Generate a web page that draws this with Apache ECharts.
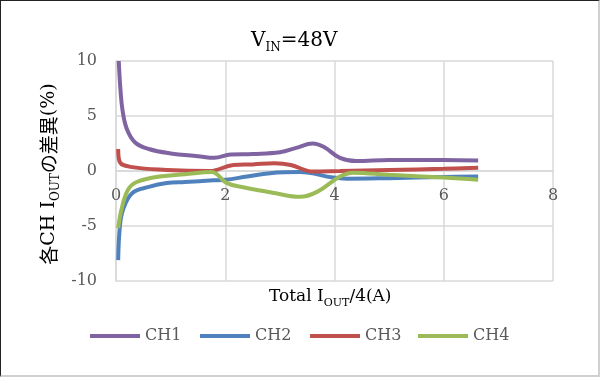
<!DOCTYPE html>
<html lang="ja">
<head>
    <meta charset="utf-8">
    <title>各CH IOUTの差異</title>
    <script src="https://cdn.jsdelivr.net/npm/echarts@6/dist/echarts.min.js"></script>
    <style>
        html, body { margin: 0; padding: 0; background: #fff; }
        #wrap { position: relative; width: 600px; height: 377px; }
        #chart { width: 600px; height: 377px; }
        #frame {
            position: absolute; left: 0; top: 0; width: 600px; height: 377px;
            box-sizing: border-box; pointer-events: none;
            border-top: 1px solid #222; border-left: 1px solid #222;
            border-right: 2px solid #d0d0d0; border-bottom: 2px solid #d0d0d0;
        }
    </style>
</head>
<body>
    <div id="wrap">
        <div id="chart"></div>
        <div id="frame"></div>
    </div>
    <script type="text/javascript">
        // 系列名
        var seriesNames = ["CH1", "CH2", "CH3", "CH4"];
        // 軸の目盛
        var xTicks = [0, 2, 4, 6, 8];
        var yTicks = [-10, -5, 0, 5, 10];
        // 各CHのデータ (Total IOUT/4, 差異%)
        var ch1X = [0.05, 0.08, 0.12, 0.2, 0.35, 0.6, 1.0, 1.5, 1.8, 2.1, 2.5, 3.0, 3.3, 3.6, 3.8, 4.1, 4.4, 5.0, 6.0, 6.63];
        var ch1Y = [10, 7.5, 5.5, 3.8, 2.6, 2.0, 1.6, 1.35, 1.2, 1.5, 1.55, 1.7, 2.1, 2.5, 2.2, 1.2, 0.9, 1.0, 1.0, 0.95];
        var ch2X = [0.04, 0.07, 0.13, 0.3, 0.6, 0.93, 1.26, 1.78, 2.0, 2.4, 2.82, 3.37, 3.97, 4.23, 5.0, 6.0, 6.63];
        var ch2Y = [-8.1, -5.1, -3.5, -2.0, -1.45, -1.1, -1.0, -0.85, -0.8, -0.5, -0.2, -0.1, -0.6, -0.7, -0.65, -0.55, -0.5];
        var ch3X = [0.04, 0.07, 0.3, 0.93, 1.72, 2.15, 2.5, 2.9, 3.2, 3.6, 4.1, 5.0, 6.0, 6.63];
        var ch3Y = [2.0, 0.8, 0.35, 0.1, 0.0, 0.55, 0.6, 0.7, 0.55, -0.05, 0.0, 0.1, 0.2, 0.3];
        var ch4X = [0.04, 0.1, 0.22, 0.38, 0.8, 1.26, 1.75, 2.03, 2.35, 2.9, 3.37, 3.68, 4.1, 4.34, 5.0, 6.0, 6.63];
        var ch4Y = [-5.2, -3.5, -1.7, -1.0, -0.5, -0.3, -0.1, -1.1, -1.5, -2.0, -2.35, -1.9, -0.5, -0.15, -0.35, -0.6, -0.8];

        var colors = ["#8064A2", "#4F81BD", "#C0504D", "#9BBB59"];
        var textColor = "#595959";
        var font = "'DejaVu Serif', serif";
        var legendLefts = [85, 195, 305, 413];

        function pairs(xs, ys) {
            return xs.map(function (x, i) { return [x, ys[i]]; });
        }
        var allData = [pairs(ch1X, ch1Y), pairs(ch2X, ch2Y), pairs(ch3X, ch3Y), pairs(ch4X, ch4Y)];

        // 下付き文字用
        function subRich(size, sub, lh, pad) {
            return {
                m: { fontFamily: font, fontSize: size, color: textColor, lineHeight: lh },
                s: { fontFamily: font, fontSize: sub, color: textColor, lineHeight: lh, verticalAlign: "bottom", padding: [pad, 0, 0, 0] },
                j: { fontFamily: "'Noto Sans CJK JP'", fontSize: size, color: textColor, lineHeight: lh }
            };
        }

        var option = {
            animation: false,
            backgroundColor: "#fff",
            color: colors,
            grid: { left: 116, right: 47, top: 61, bottom: 96, containLabel: false },
            // 凡例は1項目ずつ配置
            legend: seriesNames.map(function (name, i) {
                return {
                    data: [name],
                    left: legendLefts[i],
                    top: 323,
                    icon: "rect",
                    itemWidth: 50,
                    itemHeight: 4,
                    itemGap: 5,
                    textStyle: { fontFamily: font, fontSize: 16, color: textColor }
                };
            }),
            xAxis: {
                type: "value",
                min: xTicks[0],
                max: xTicks[xTicks.length - 1],
                interval: 2,
                offset: -110,
                axisLine: { onZero: false, lineStyle: { color: "#d9d9d9", width: 1.5 } },
                axisTick: { show: false },
                splitLine: { lineStyle: { color: "#d9d9d9", width: 1.5 } },
                axisLabel: { fontFamily: font, fontSize: 16, color: textColor, margin: 17 }
            },
            yAxis: {
                type: "value",
                min: yTicks[0],
                max: yTicks[yTicks.length - 1],
                interval: 5,
                axisLine: { show: true, onZero: false, lineStyle: { color: "#d9d9d9", width: 1.5 } },
                axisTick: { show: false },
                splitLine: { lineStyle: { color: "#d9d9d9", width: 1.5 } },
                axisLabel: { fontFamily: font, fontSize: 16, color: textColor, margin: 19 }
            },
            graphic: [
                {
                    type: "text", left: 251, top: 31,
                    style: { text: "{m|V}{s|IN}{m|=48V}", rich: subRich(20, 12, 26, 11) }
                },
                {
                    type: "text", left: 269, top: 288,
                    style: { text: "{m|Total I}{s|OUT}{m|/4(A)}", rich: subRich(17, 11, 24, 6) }
                },
                {
                    type: "text", x: 49, y: 174, rotation: Math.PI / 2,
                    style: {
                        text: "{j|各}{m|CH I}{s|OUT}{j|の差異}{m|(%)}",
                        align: "center", verticalAlign: "middle",
                        rich: subRich(19, 12, 26, 10)
                    }
                }
            ],
            series: seriesNames.map(function (name, i) {
                return {
                    name: name,
                    type: "line",
                    smooth: 0.4,
                    showSymbol: false,
                    lineStyle: { width: 4, color: colors[i] },
                    data: allData[i]
                };
            })
        };

        var mychart = echarts.init(document.getElementById("chart"), null, { renderer: "canvas" });
        mychart.setOption(option);
    </script>
</body>
</html>
